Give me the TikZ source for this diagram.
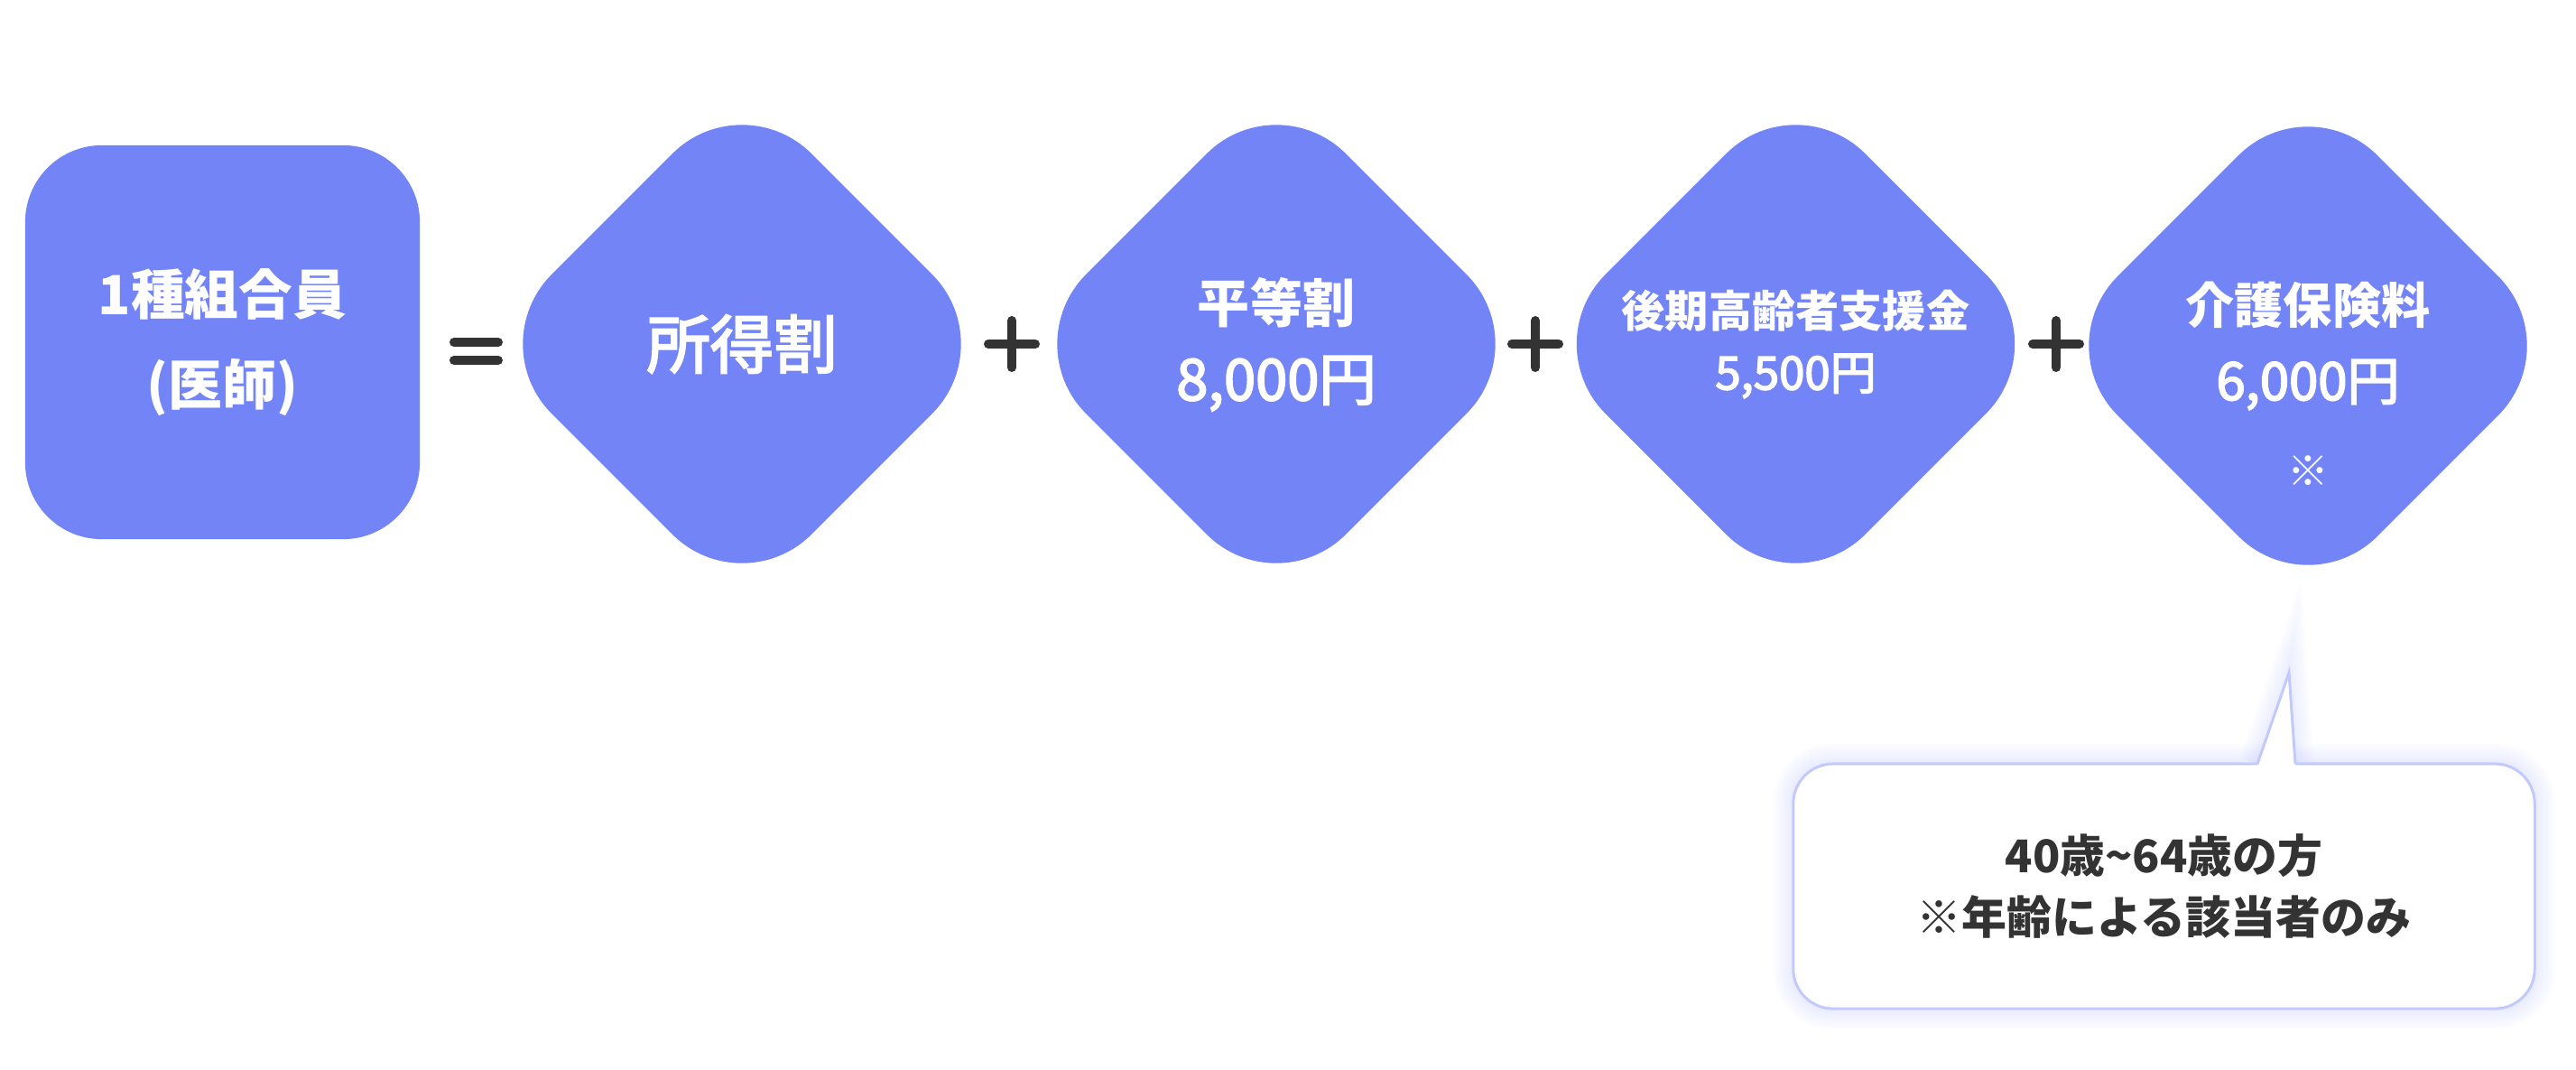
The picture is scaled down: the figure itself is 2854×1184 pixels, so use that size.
\documentclass[tikz,border=0pt]{standalone}
\usepackage{fontspec}
\setmainfont{Noto Sans CJK JP}
\newfontfamily\jpmedium{Noto Sans CJK JP}[FakeBold=3]
\usetikzlibrary{shapes.geometric,backgrounds}
\definecolor{fmblue}{RGB}{115,132,247}
\definecolor{fmdark}{RGB}{51,51,51}
\definecolor{fmline}{RGB}{194,202,252}
\definecolor{fmglow}{RGB}{160,172,250}

\begin{document}
\begin{tikzpicture}[x=0.01cm,y=-0.01cm,
  termbox/.style={rectangle,rounded corners=0.85cm,fill=fmblue,text=white,minimum width=4.37cm,minimum height=4.36cm,align=center,inner sep=0pt},
  partdiamond/.style={diamond,aspect=1,rounded corners=1.09cm,fill=fmblue,text=white,minimum width=5.76cm,minimum height=5.76cm,align=center,inner sep=0pt},
  notebox/.style={rectangle,rounded corners=0.44cm,draw=fmline,line width=0.03cm,fill=white,text=fmdark,minimum width=8.21cm,minimum height=2.71cm,align=center},
  opsign/.style={fmdark,line width=0.1cm,line cap=round}]
  \useasboundingbox (0,0) rectangle (2854,1184);
  % Left: member box
  \node[termbox,font=\bfseries\fontsize{17}{28.5}\selectfont] (member) at (246.5,379) {1種組合員\\(医師)};
  \draw[opsign] (503,379) -- (552,379);
  \draw[opsign] (503,399) -- (552,399);
  % Diamonds with the parts
  \node[partdiamond,font=\jpmedium\fontsize{20}{24}\selectfont] (shotoku) at (822,381) {所得割};
  \draw[opsign] (1095,381) -- (1147,381) (1121,355) -- (1121,407);
  \node[partdiamond,font=\fontsize{16.5}{24.5}\selectfont] (byodo) at (1414,381) {\bfseries 平等割\\{\jpmedium\fontsize{18}{24.5}\selectfont 8,000円}};
  \draw[opsign] (1675,381) -- (1727,381) (1701,355) -- (1701,407);
  \node[partdiamond,font=\fontsize{13.7}{19.6}\selectfont] (koki) at (1989.5,381) {\bfseries 後期高齢者支援金\\{\jpmedium\fontsize{14.5}{19.6}\selectfont 5,500円}};
  \draw[opsign] (2252,381) -- (2304,381) (2278,355) -- (2278,407);
  \node[partdiamond,font=\fontsize{15.4}{24}\selectfont] (kaigo) at (2557,383) {\bfseries 介護保険料\\{\jpmedium\fontsize{16.5}{24}\selectfont 6,000円}};
  \node[text=white,font=\fontsize{13}{13}\selectfont] (kome) at (2557,522) {※};
  % Note below, pointing up to the last diamond
  \node[notebox,font=\bfseries\fontsize{14.2}{19.4}\selectfont] (note) at (2397.5,981.5) {40歳\textasciitilde64歳の方\\※年齢による該当者のみ};
  \coordinate (tip) at (2536,745);
  \coordinate (tipl) at (2501,846);
  \coordinate (tipr) at (2543,846);
  \fill[white] ([yshift=-0.03cm]tipl) -- (tipl) -- (tip) -- (tipr) -- ([yshift=-0.03cm]tipr) -- cycle;
  \draw[fmline,line width=0.03cm] (tipl) -- (tip) -- (tipr);
  \begin{scope}[on background layer]
    \foreach \g [evaluate=\g as \lw using \g*1.2] in {1,...,10}{
      \draw[fmglow,opacity=0.022,line width=\lw pt,rounded corners=0.44cm] (note.north west) rectangle (note.south east);
      \draw[fmglow,opacity=0.022,line width=\lw pt] (tipl) -- (tip) -- (tipr);
    }
  \end{scope}
\end{tikzpicture}
\end{document}
